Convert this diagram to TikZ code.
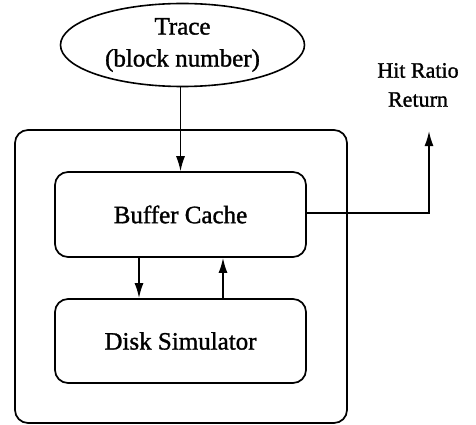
\documentclass[tikz,border=0pt]{standalone}
\usepackage{fontspec}
\setmainfont[FakeBold=1.2,AutoFakeBold=1.2]{Liberation Serif}
\usetikzlibrary{shapes.geometric,arrows.meta}
\begin{document}
\begin{tikzpicture}[x=1pt,y=-1pt,
  box/.style={draw,line width=1.7pt,rounded corners=13pt},
  arr/.style={line width=1.7pt,-{Latex[length=15pt,width=9pt]}},
  lbl/.style={font=\bfseries\fontsize{25}{28}\selectfont}]
\useasboundingbox (0,0) rectangle (476,425);
\node[draw,line width=1.6pt,ellipse,minimum width=244pt,minimum height=83pt,inner sep=0pt,
  align=center,font=\bfseries\fontsize{25}{32}\selectfont] (trace) at (182.5,45) {Trace\\(block number)};
\node[box,minimum width=332pt,minimum height=293pt] (outer) at (181,276.5) {};
\node[box,minimum width=251pt,minimum height=85pt,lbl] (buf) at (180.5,214.5) {Buffer Cache};
\node[box,minimum width=251pt,minimum height=84pt,lbl] (disk) at (180.5,341) {Disk Simulator};
\node[align=center,font=\bfseries\fontsize{22}{29}\selectfont] (hit) at (418,85) {Hit Ratio\\Return};
\coordinate (corner) at (429,213);
\coordinate (tip) at (429,131);
\draw[arr,line width=1.3pt] (trace.south -| buf.north) -- (buf.north);
\draw[arr] (buf.south -| 139,0) -- (disk.north -| 139,0);
\draw[arr] (disk.north -| 223,0) -- (buf.south -| 223,0);
\draw[arr] (buf.east |- corner) -- (corner) -- (tip);
\end{tikzpicture}
\end{document}
